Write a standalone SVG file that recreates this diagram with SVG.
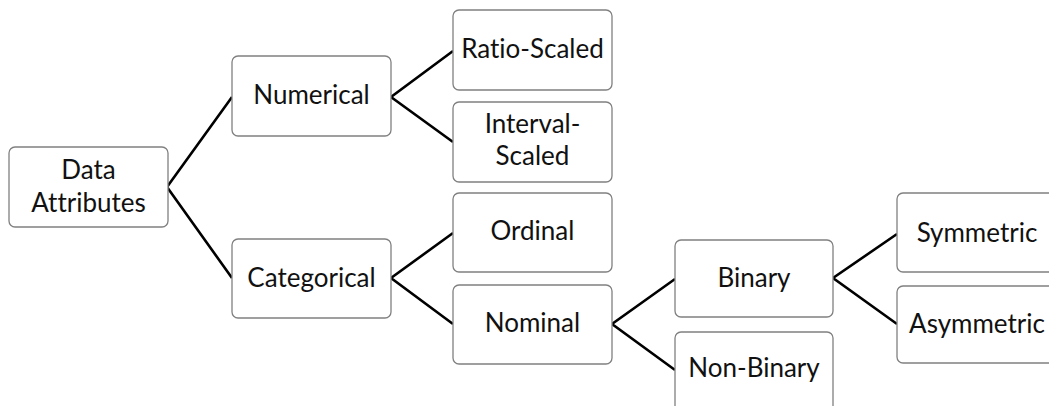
<svg xmlns="http://www.w3.org/2000/svg" width="1049" height="406" viewBox="0 0 1049 406">
<style>
.box{fill:#fff;stroke:#808080;stroke-width:1.3}
.lbl{font-family:Lato,"Open Sans","Liberation Sans",sans-serif;font-size:26px;fill:#111;text-anchor:middle;font-variant-ligatures:none;font-feature-settings:"liga" 0}
.conn{fill:none;stroke:#000;stroke-width:2.6;stroke-linejoin:miter}
</style>
<rect width="1049" height="406" fill="#fff"/>
<g id="connectors">
<polyline class="conn" points="232,97 167,187 232,278"/>
<polyline class="conn" points="453,51 391,97 453,142"/>
<polyline class="conn" points="453,233 391,278 453,324"/>
<polyline class="conn" points="675,279 612,324 675,370"/>
<polyline class="conn" points="897,234 833,278 897,324"/>
</g>
<g id="data-attributes"><rect class="box" x="9" y="147" width="159" height="80" rx="6"/><text class="lbl" x="88.5" y="179">Data</text><text class="lbl" x="88.5" y="212">Attributes</text></g>
<g id="numerical"><rect class="box" x="232" y="56" width="159" height="80" rx="6"/><text class="lbl" x="311.5" y="104">Numerical</text></g>
<g id="categorical"><rect class="box" x="232" y="239" width="159" height="79" rx="6"/><text class="lbl" x="311.5" y="287">Categorical</text></g>
<g id="ratio-scaled"><rect class="box" x="453" y="10" width="159" height="80" rx="6"/><text class="lbl" x="532.5" y="58">Ratio-Scaled</text></g>
<g id="interval-scaled"><rect class="box" x="453" y="102" width="159" height="80" rx="6"/><text class="lbl" x="532.5" y="133">Interval-</text><text class="lbl" x="532.5" y="165">Scaled</text></g>
<g id="ordinal"><rect class="box" x="453" y="193" width="159" height="79" rx="6"/><text class="lbl" x="532.5" y="240">Ordinal</text></g>
<g id="nominal"><rect class="box" x="453" y="285" width="159" height="79" rx="6"/><text class="lbl" x="532.5" y="332">Nominal</text></g>
<g id="binary"><rect class="box" x="675" y="240" width="158" height="77" rx="6"/><text class="lbl" x="754" y="287">Binary</text></g>
<g id="non-binary"><rect class="box" x="675" y="332" width="158" height="80" rx="6"/><text class="lbl" x="754" y="377">Non-Binary</text></g>
<g id="symmetric"><rect class="box" x="897" y="193" width="160" height="79" rx="6"/><text class="lbl" x="977" y="242">Symmetric</text></g>
<g id="asymmetric"><rect class="box" x="897" y="286" width="160" height="77" rx="6"/><text class="lbl" x="977" y="333">Asymmetric</text></g>
</svg>
